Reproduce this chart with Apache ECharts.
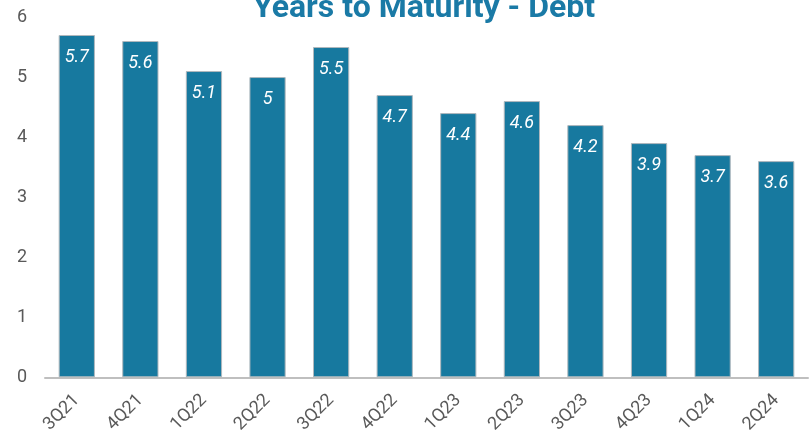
<!DOCTYPE html>
<html><head><meta charset="utf-8">
<script src="https://cdn.jsdelivr.net/npm/echarts@6/dist/echarts.min.js"></script>
<style>html,body{margin:0;padding:0;background:#fff}#c{width:812px;height:436px}</style>
</head><body><div id="c"></div>
<script>
const categories = ['3Q21','4Q21','1Q22','2Q22','3Q22','4Q22','1Q23','2Q23','3Q23','4Q23','1Q24','2Q24'];
const values = [5.7,5.6,5.1,5,5.5,4.7,4.4,4.6,4.2,3.9,3.7,3.6];
const titleText = 'Years to Maturity - Debt';
const chart = echarts.init(document.getElementById('c'));
chart.setOption({
  animation:false,
  textStyle:{fontFamily:'Roboto'},
  title:{text:titleText,left:419,textAlign:'center',top:-12,textStyle:{fontFamily:'Roboto',fontSize:32,fontWeight:'bold',color:'#1a7aa6'}},
  grid:{left:45,right:4,top:17,bottom:58},
  xAxis:{type:'category',data:categories,
    axisLine:{lineStyle:{color:'#bfbfbf',width:2}},axisTick:{show:false},
    axisLabel:{rotate:45,color:'#595959',fontSize:18,margin:20,fontFamily:'Roboto'}},
  yAxis:{type:'value',min:0,max:6,interval:1,splitLine:{show:false},
    axisLabel:{color:'#595959',fontSize:18,margin:18,fontFamily:'Roboto'}},
  series:[{type:'bar',data:values,barWidth:'57%',
    itemStyle:{color:'#17799f',borderColor:'#b0b8bd',borderWidth:1},
    label:{show:true,position:'insideTop',distance:13,color:'#ffffff',fontStyle:'italic',fontSize:18,fontFamily:'Roboto'}}]
});
</script></body></html>
